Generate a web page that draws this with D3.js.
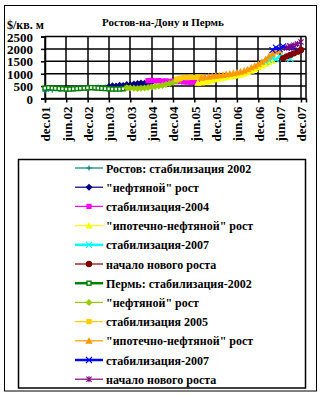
<!DOCTYPE html>
<html><head><meta charset="utf-8">
<script src="https://cdn.jsdelivr.net/npm/d3@7"></script>
<style>
body{margin:0;background:#fff}
text{font-family:"Liberation Serif","Times New Roman",serif;font-weight:bold;fill:#000}
</style>
</head><body>
<svg id="c" width="326" height="397"></svg>
<script>
const chartTitle = "Ростов-на-Дону и Пермь";
const yAxisLabel = "$/кв. м";
const yTicks = [0, 500, 1000, 1500, 2000, 2500];
const xTickLabels = ["dec.01","jun.02","dec.02","jun.03","dec.03","jun.04","dec.04","jun.05","dec.05","jun.06","dec.06","jun.07","dec.07"];

const seriesNames = [
  "Ростов: стабилизация 2002",
  "\"нефтяной\" рост",
  "стабилизация-2004",
  "\"ипотечно-нефтяной\" рост",
  "стабилизация-2007",
  "начало нового роста",
  "Пермь: стабилизация-2002",
  "\"нефтяной\" рост",
  "стабилизация 2005",
  "\"ипотечно-нефтяной\" рост",
  "стабилизация-2007",
  "начало нового роста"
];
const seriesColors = ["#008080","#000080","#FF00FF","#FFFF00","#00FFFF","#800000","#008000","#99CC00","#FFCC00","#FF9900","#0000FF","#800080"];
const seriesMarkers = ["plus","diamond","square","triangle","cross","circle","squareHollow","diamond","square","triangle","cross","star"];
const seriesLineWidths = [1,1,1,1,2.5,1,2.5,1,1,1,2.5,1];
// first month of each series (monthly values)
const seriesStarts = ["2001-12","2003-06","2004-05","2005-07","2007-02","2007-07","2001-12","2003-11","2005-01","2005-08","2007-04","2007-08"];

const rostovStab2002 = [300,380,340,400,370,410,380,400,390,420,400,430,410,440,420,450,430,460,470];
const rostovOil = [480,510,500,530,520,560,550,580,600,620,610,640,660];
const rostovStab2004 = [720,730,710,720,700,710,690,700,680,690,670,660,650,660,640];
const rostovMortgage = [640,650,680,700,740,780,810,840,870,890,910,940,970,1010,1060,1120,1190,1260,1330,1400,1460,1520];
const rostovStab2007 = [1480,1560,1650,1580,1700,1620,1680,1600];
const rostovNewGrowth = [1620,1700,1760,1820,1890,1960];
const permStab2002 = [420,430,420,410,400,390,380,380,390,400,410,420,430,440,430,420,410,400,390,380,380,380,390,440];
const permOil = [430,420,410,400,410,420,440,460,480,500,520,560,600,650,710,770];
const permStab2005 = [780,820,850,840,860,850,870,860];
const permMortgage = [840,860,880,900,920,930,950,980,1000,1020,1050,1080,1120,1180,1250,1320,1400,1480,1580,1700,1800,1900,1950];
const permStab2007 = [1950,2050,2000,2100,2050,2100,2060];
const permNewGrowth = [2050,2100,2150,2200,2280];

const seriesValues = [rostovStab2002,rostovOil,rostovStab2004,rostovMortgage,rostovStab2007,rostovNewGrowth,
  permStab2002,permOil,permStab2005,permMortgage,permStab2007,permNewGrowth];

const monthMap = {dec:11, jun:5};
const parseStart = s => { const [y,m] = s.split("-").map(Number); return new Date(y, m-1, 1); };
const tickDates = xTickLabels.map(l => { const [m,yy] = l.split("."); return new Date(2000 + +yy, monthMap[m], 1); });

const series = seriesNames.map((name, k) => ({
  name, color: seriesColors[k], marker: seriesMarkers[k], lw: seriesLineWidths[k],
  points: seriesValues[k].map((v, i) => ({date: d3.timeMonth.offset(parseStart(seriesStarts[k]), i), value: v}))
}));

const svg = d3.select("#c");
const L = 45, R = 306, T = 36.5, B = 98.5;
const x = d3.scaleTime().domain([new Date(2001,11,1), new Date(2008,0,13)]).range([L, R]);
const y = d3.scaleLinear().domain([0, 2500]).range([B, T]);

// outer border
svg.append("rect").attr("x",4.5).attr("y",5.5).attr("width",312).attr("height",385.5)
  .attr("fill","none").attr("stroke","#000").attr("stroke-width",1);

// title & y label
svg.append("text").attr("x",163).attr("y",26).attr("text-anchor","middle").style("font-size","11px").text(chartTitle);
svg.append("text").attr("x",7).attr("y",29).style("font-size","12px").text(yAxisLabel);

// grid
const grid = svg.append("g").attr("stroke","#000").attr("stroke-width",1.5);
grid.selectAll(".hg").data(yTicks).join("line")
  .attr("x1",L).attr("x2",R).attr("y1",d=>y(d)).attr("y2",d=>y(d));
grid.selectAll(".vg").data(tickDates).join("line")
  .attr("x1",d=>Math.round(x(d))).attr("x2",d=>Math.round(x(d))).attr("y1",T).attr("y2",B);
grid.append("line").attr("x1",R).attr("x2",R).attr("y1",T).attr("y2",B);

// axes
const yAxis = svg.append("g").attr("transform",`translate(${L},0)`)
  .call(d3.axisLeft(y).tickValues(yTicks).tickSize(4).tickPadding(8).tickFormat(d3.format("d")));
yAxis.select(".domain").attr("stroke","#000").attr("stroke-width",1.5);
yAxis.selectAll(".tick line").attr("stroke","#000").attr("stroke-width",1.5);
yAxis.selectAll("text").style("font-size","13px").attr("font-family",null).attr("dy","0.35em");

const xAxis = svg.append("g").attr("transform",`translate(0,${B})`)
  .call(d3.axisBottom(x).tickValues(tickDates).tickSize(4).tickFormat((d,i)=>xTickLabels[i]));
xAxis.select(".domain").attr("stroke","#000").attr("stroke-width",1.5);
xAxis.selectAll(".tick line").attr("stroke","#000").attr("stroke-width",1.5);
xAxis.selectAll("text").style("font-size","13px").attr("font-family",null)
  .attr("transform","rotate(-90)").attr("text-anchor","end").attr("x",-8).attr("y",0).attr("dy","0.38em");

// marker drawing
function drawMarker(g, type, color) {
  const s = 2.6;
  switch (type) {
    case "plus":
      g.append("path").attr("d",`M${-s},0H${s}M0,${-s}V${s}`).attr("stroke",color).attr("stroke-width",1.2).attr("fill","none"); break;
    case "diamond":
      g.append("path").attr("d",`M0,-3.5L3.5,0L0,3.5L-3.5,0Z`).attr("fill",color); break;
    case "square":
      g.append("rect").attr("x",-2.6).attr("y",-2.6).attr("width",5.2).attr("height",5.2).attr("fill",color); break;
    case "squareHollow":
      g.append("rect").attr("x",-2).attr("y",-2).attr("width",4).attr("height",4).attr("fill","#fff").attr("stroke",color).attr("stroke-width",1.4); break;
    case "triangle":
      g.append("path").attr("d",`M0,-3.6L3.6,3L-3.6,3Z`).attr("fill",color); break;
    case "cross":
      g.append("path").attr("d",`M-3,-3L3,3M3,-3L-3,3`).attr("stroke",color).attr("stroke-width",1.1).attr("fill","none"); break;
    case "circle":
      g.append("circle").attr("r",3.2).attr("fill",color); break;
    case "star":
      g.append("path").attr("d",`M-2.6,-2.6L2.6,2.6M2.6,-2.6L-2.6,2.6M0,-3V3`).attr("stroke",color).attr("stroke-width",1.1).attr("fill","none"); break;
  }
}

// series
const line = d3.line().x(d=>x(d.date)).y(d=>y(d.value));
const plot = svg.append("g");
series.forEach(s => {
  const g = plot.append("g");
  g.append("path").datum(s.points).attr("d",line).attr("fill","none").attr("stroke",s.color).attr("stroke-width",s.lw);
  g.selectAll(".m").data(s.points).join("g").attr("transform",d=>`translate(${x(d.date)},${y(d.value)})`)
    .each(function(){ drawMarker(d3.select(this), s.marker, s.color); });
});

// legend
svg.append("rect").attr("x",18.5).attr("y",159.5).attr("width",287).attr("height",228.5)
  .attr("fill","#fff").attr("stroke","#000").attr("stroke-width",1.5);
const leg = svg.append("g");
series.forEach((s, k) => {
  const cy = 168 + k * 19.2;
  const g = leg.append("g").attr("transform",`translate(0,${cy})`);
  g.append("line").attr("x1",75).attr("x2",103).attr("y1",0).attr("y2",0).attr("stroke",s.color).attr("stroke-width",s.lw === 1 ? 1.2 : 2.5);
  drawMarker(g.append("g").attr("transform","translate(89,0)"), s.marker, s.color);
  g.append("text").attr("x",106).attr("y",4.5).style("font-size","12px").text(s.name);
});
</script>
</body></html>
